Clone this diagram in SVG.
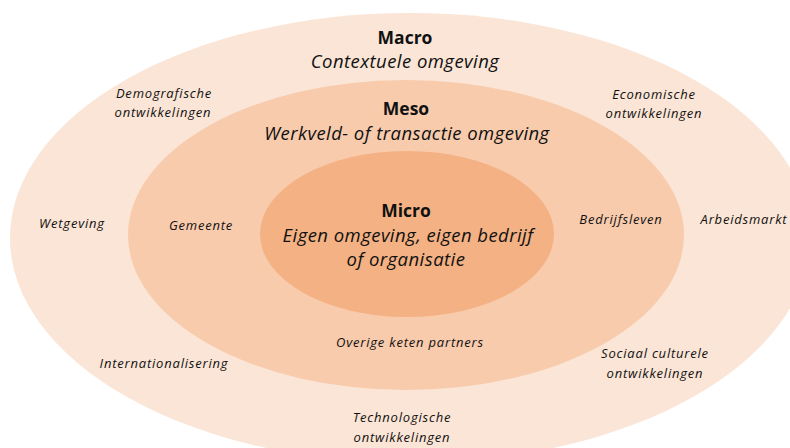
<svg xmlns="http://www.w3.org/2000/svg" width="790" height="448" viewBox="0 0 790 448">
<style>
text { font-family: "Open Sans", Lato, "Liberation Sans", sans-serif; fill: #111; text-anchor: middle; }
.t { font-weight: bold; font-size: 17.5px; }
.s { font-style: italic; font-size: 18.5px; letter-spacing: 0.45px; }
.l { font-style: italic; font-size: 13px; letter-spacing: 0.8px; }
</style>
<rect width="790" height="448" fill="#ffffff"/>
<g id="macro">
<ellipse cx="410" cy="238" rx="400" ry="225" fill="#FBE5D6"/>
<text class="t" x="405" y="44">Macro</text>
<text class="s" x="405" y="68">Contextuele omgeving</text>
</g>
<g id="meso">
<ellipse cx="406" cy="235" rx="278" ry="155" fill="#F8CBAD"/>
<text class="t" x="406" y="115">Meso</text>
<text class="s" x="407" y="140">Werkveld- of transactie omgeving</text>
</g>
<g id="micro">
<ellipse cx="407" cy="234" rx="147" ry="83" fill="#F4B183"/>
<text class="t" x="406" y="217">Micro</text>
<text class="s" x="408" y="242">Eigen omgeving, eigen bedrijf</text>
<text class="s" x="406" y="266">of organisatie</text>
</g>
<g id="labels">
<text class="l" x="164" y="98">Demografische</text>
<text class="l" x="163" y="117">ontwikkelingen</text>
<text class="l" x="654" y="99">Economische</text>
<text class="l" x="654" y="118">ontwikkelingen</text>
<text class="l" x="72" y="228">Wetgeving</text>
<text class="l" x="201" y="230">Gemeente</text>
<text class="l" x="621" y="224">Bedrijfsleven</text>
<text class="l" x="744" y="224">Arbeidsmarkt</text>
<text class="l" x="164" y="368">Internationalisering</text>
<text class="l" x="410" y="347">Overige keten partners</text>
<text class="l" x="655" y="358">Sociaal culturele</text>
<text class="l" x="655" y="378">ontwikkelingen</text>
<text class="l" x="402" y="422">Technologische</text>
<text class="l" x="402" y="442">ontwikkelingen</text>
</g>
<g id="connectors"></g>
</svg>
